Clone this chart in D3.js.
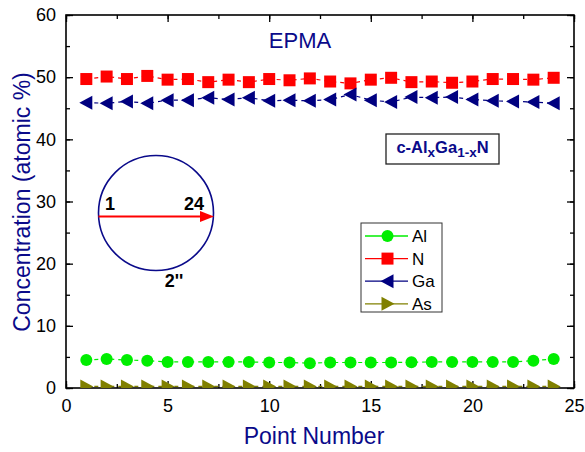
<!DOCTYPE html>
<html>
<head>
<meta charset="utf-8">
<script src="https://cdn.jsdelivr.net/npm/d3@7"></script>
<style>
  body { margin: 0; background: #fff; }
  text { font-family: "Liberation Sans", Arial, sans-serif; }
</style>
</head>
<body>
<div id="chart"></div>
<script>
// data
const points = d3.range(1, 25);
const alValues = [4.5, 4.66, 4.5, 4.4, 4.2, 4.2, 4.2, 4.2, 4.2, 4.1, 4.1, 4.0,
                  4.1, 4.1, 4.1, 4.1, 4.15, 4.2, 4.2, 4.2, 4.2, 4.2, 4.4, 4.66];
const nValues = [49.7, 50.1, 49.7, 50.2, 49.6, 49.7, 49.2, 49.6, 49.2, 49.7, 49.5, 49.8,
                 49.3, 49.0, 49.6, 49.9, 49.2, 49.3, 49.1, 49.3, 49.7, 49.7, 49.6, 49.9];
const gaValues = [45.9, 45.8, 46.1, 45.8, 46.3, 46.3, 46.7, 46.4, 46.7, 46.2, 46.3, 46.2,
                  46.4, 47.2, 46.3, 46.0, 46.8, 46.7, 46.8, 46.4, 46.2, 46.1, 46.0, 45.8];
const asValues = [0.25, 0.25, 0.25, 0.25, 0.25, 0.25, 0.25, 0.25, 0.25, 0.25, 0.25, 0.25,
                  0.25, 0.25, 0.25, 0.25, 0.25, 0.25, 0.25, 0.25, 0.25, 0.25, 0.25, 0.25];
const seriesNames = ["Al", "N", "Ga", "As"];
const xTicks = [0, 5, 10, 15, 20, 25];
const yTicks = [0, 10, 20, 30, 40, 50, 60];

const series = [
  { name: "Al", values: alValues, color: "#00ee00", shape: "circle" },
  { name: "N", values: nValues, color: "#ff0000", shape: "square" },
  { name: "Ga", values: gaValues, color: "#000080", shape: "left" },
  { name: "As", values: asValues, color: "#808000", shape: "right" }
];

const W = 585, H = 452;
const margin = { top: 15, right: 11, bottom: 64, left: 66 };
const width = W - margin.left - margin.right;
const height = H - margin.top - margin.bottom;
const navy = "#0a0a8a";

const svg = d3.select("#chart").append("svg")
  .attr("width", W).attr("height", H);
const g = svg.append("g")
  .attr("transform", `translate(${margin.left},${margin.top})`);

const x = d3.scaleLinear().domain([0, 25]).range([0, width]);
const y = d3.scaleLinear().domain([0, 60]).range([height, 0]);

g.append("clipPath").attr("id", "clip")
  .append("rect").attr("width", width).attr("height", height);

// axes, ticks drawn inward
const minorX = d3.range(0, 25.1, 2.5);
const minorY = d3.range(0, 60.1, 5);
function styleAxis(sel) {
  sel.select(".domain").remove();
  sel.selectAll("line").attr("stroke", "#000").attr("stroke-width", 1.3);
  sel.selectAll("text").attr("fill", "#000").style("font-size", "18px");
}
g.append("g").attr("transform", `translate(0,${height})`)
  .call(d3.axisBottom(x).tickValues(minorX).tickSize(-4).tickFormat(""))
  .call(styleAxis);
g.append("g").attr("transform", `translate(0,${height})`)
  .call(d3.axisBottom(x).tickValues(xTicks).tickSize(-7).tickPadding(11).tickFormat(d3.format("d")))
  .call(styleAxis);
g.append("g")
  .call(d3.axisTop(x).tickValues(minorX).tickSize(-4).tickFormat(""))
  .call(styleAxis);
g.append("g")
  .call(d3.axisTop(x).tickValues(xTicks).tickSize(-7).tickFormat(""))
  .call(styleAxis);
g.append("g")
  .call(d3.axisLeft(y).tickValues(minorY).tickSize(-4).tickFormat(""))
  .call(styleAxis);
g.append("g")
  .call(d3.axisLeft(y).tickValues(yTicks).tickSize(-7).tickPadding(10).tickFormat(d3.format("d")))
  .call(styleAxis);
g.append("g").attr("transform", `translate(${width},0)`)
  .call(d3.axisRight(y).tickValues(minorY).tickSize(-4).tickFormat(""))
  .call(styleAxis);
g.append("g").attr("transform", `translate(${width},0)`)
  .call(d3.axisRight(y).tickValues(yTicks).tickSize(-7).tickFormat(""))
  .call(styleAxis);

g.append("rect").attr("width", width).attr("height", height)
  .attr("fill", "none").attr("stroke", "#000").attr("stroke-width", 1.6);

// marker shapes
function markerPath(shape, s) {
  if (shape === "circle") return d3.symbol(d3.symbolCircle, Math.PI * 6 * 6)();
  if (shape === "square") return `M${-s},${-s}H${s}V${s}H${-s}Z`;
  if (shape === "left") return `M${-s - 1},0L${s},${-s - 1}L${s},${s + 1}Z`;
  return `M${s + 1},0L${-s},${-s - 1}L${-s},${s + 1}Z`;
}

const plot = g.append("g").attr("clip-path", "url(#clip)");
const line = d3.line().x((d, i) => x(points[i])).y(d => y(d));

series.forEach(s => {
  plot.append("path").datum(s.values)
    .attr("d", line)
    .attr("fill", "none")
    .attr("stroke", s.color)
    .attr("stroke-width", 1.2)
    .attr("stroke-dasharray", "4,4");
  plot.selectAll(null).data(s.values).join("path")
    .attr("transform", (d, i) => `translate(${x(points[i])},${y(d)})`)
    .attr("d", markerPath(s.shape, 6))
    .attr("fill", s.color);
});

// legend
const legend = g.append("g").attr("transform", `translate(${361 - margin.left},${223 - margin.top})`);
legend.append("rect").attr("width", 81).attr("height", 89)
  .attr("fill", "#fff").attr("stroke", "#333").attr("stroke-width", 1);
seriesNames.forEach((name, i) => {
  const s = series[i];
  const ly = 13 + i * 22.6;
  legend.append("line").attr("x1", 4).attr("x2", 47).attr("y1", ly).attr("y2", ly)
    .attr("stroke", s.color).attr("stroke-width", 1.3);
  legend.append("path").attr("transform", `translate(26.5,${ly})`)
    .attr("d", markerPath(s.shape, 6)).attr("fill", s.color);
  legend.append("text").attr("x", 51).attr("y", ly + 6)
    .style("font-size", "17px").attr("fill", "#000").text(name);
});

// EPMA label
g.append("text").attr("x", 300 - margin.left).attr("y", 48 - margin.top)
  .attr("text-anchor", "middle").attr("fill", navy)
  .style("font-size", "22px").text("EPMA");

// composition box
const comp = g.append("g").attr("transform", `translate(${386 - margin.left},${134 - margin.top})`);
comp.append("rect").attr("width", 113).attr("height", 30)
  .attr("fill", "#fff").attr("stroke", "#222").attr("stroke-width", 1.3);
const ct = comp.append("text").attr("x", 56.5).attr("y", 19)
  .attr("text-anchor", "middle").attr("fill", navy)
  .style("font-size", "16.5px").style("font-weight", "bold");
ct.append("tspan").text("c-Al");
ct.append("tspan").attr("dy", 4).style("font-size", "13.5px").text("x");
ct.append("tspan").attr("dy", -4).text("Ga");
ct.append("tspan").attr("dy", 4).style("font-size", "13.5px").text("1-x");
ct.append("tspan").attr("dy", -4).text("N");

// wafer sketch
const wafer = svg.append("g");
wafer.append("circle").attr("cx", 156).attr("cy", 213).attr("r", 57.5)
  .attr("fill", "none").attr("stroke", navy).attr("stroke-width", 1.6);
wafer.append("line").attr("x1", 98.5).attr("x2", 203).attr("y1", 216.5).attr("y2", 216.5)
  .attr("stroke", "#ff0000").attr("stroke-width", 2);
wafer.append("path").attr("d", "M214,216.5L200,211L200,222Z").attr("fill", "#ff0000");
wafer.append("text").attr("x", 110).attr("y", 210).attr("text-anchor", "middle")
  .style("font-size", "18px").style("font-weight", "bold").text("1");
wafer.append("text").attr("x", 194).attr("y", 210).attr("text-anchor", "middle")
  .style("font-size", "18px").style("font-weight", "bold").text("24");
wafer.append("text").attr("x", 174).attr("y", 287).attr("text-anchor", "middle")
  .style("font-size", "18px").style("font-weight", "bold").text("2''");

// axis titles
svg.append("text").attr("x", 314).attr("y", 444)
  .attr("text-anchor", "middle").attr("fill", navy)
  .style("font-size", "23px").text("Point Number");
svg.append("text")
  .attr("transform", `translate(30,202) rotate(-90)`)
  .attr("text-anchor", "middle").attr("fill", navy)
  .style("font-size", "23px").text("Concentration (atomic %)");
</script>
</body>
</html>
